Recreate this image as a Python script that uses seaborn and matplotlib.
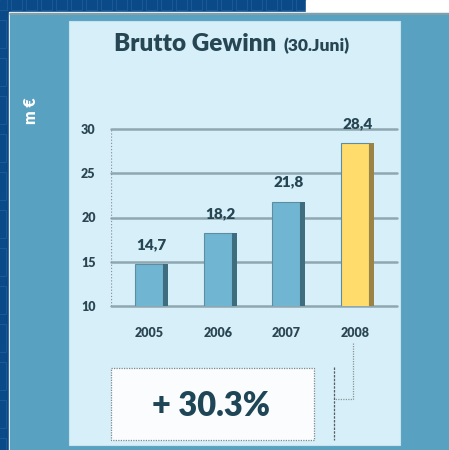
import matplotlib
matplotlib.use("Agg")
import matplotlib.pyplot as plt
import seaborn as sns
import pandas as pd
from matplotlib.patches import Rectangle

years = ["2005", "2006", "2007", "2008"]
values = [14.7, 18.2, 21.8, 28.4]
labels = ["14,7", "18,2", "21,8", "28,4"]
yticks = [10, 15, 20, 25, 30]
title = "Brutto Gewinn"
subtitle = "(30.Juni)"
unit = "m €"
growth = "+ 30.3%"

sns.set_theme(style="white")
plt.rcParams['font.family'] = ['Lato', 'DejaVu Sans']

W, H = 449, 450
fig = plt.figure(figsize=(W / 100, H / 100), dpi=100)

# background in pixel coordinates
bg = fig.add_axes([0, 0, 1, 1])
bg.set_xlim(0, W)
bg.set_ylim(H, 0)
bg.axis("off")
bg.add_patch(Rectangle((0, 0), W, H, color="#0b4a88", zorder=0))
for xx in range(-4, 310, 15):
    bg.add_patch(Rectangle((xx, -2), 11, 12, fill=False, ec="#1b5894", lw=0.8, zorder=0.5))
for yy in range(20, 450, 38):
    bg.add_patch(Rectangle((-3, yy), 9, 28, fill=False, ec="#1b5894", lw=0.8, zorder=0.5))
bg.add_patch(Rectangle((306, 0), W - 306, 12, color="white", zorder=1))
bg.add_patch(Rectangle((8.5, 11.5), W, H, color="white", zorder=1))
bg.add_patch(Rectangle((10, 13), W, H, color="#58a1c1", zorder=2))
bg.plot([10, W], [13.5, 13.5], color="#8f9fa6", lw=1.2, zorder=2.5)
bg.add_patch(Rectangle((69, 21), 331, 424, color="#d7eff8", ec="#c6e3ee", lw=0.8, zorder=3))

# title
bg.text(114, 51, title, fontsize=17.5, fontweight="heavy", color="#274653", ha="left", va="baseline", zorder=5)
bg.text(283, 51, subtitle, fontsize=12.5, fontweight="heavy", color="#274653", ha="left", va="baseline", zorder=5)
bg.text(31, 111, unit, fontsize=11.5, fontweight="heavy", color="white", rotation=90, ha="center", va="center", zorder=5)

# growth box
bg.add_patch(Rectangle((111, 368), 203, 72, facecolor="#fafcfd", edgecolor="#7f8a8f", lw=0.9, ls=(0, (1, 1)), zorder=4))
bg.text(211, 406, growth, fontsize=23.5, fontweight="heavy", color="#1f4656", ha="center", va="center", zorder=5)
bg.plot([353, 353, 334], [343, 399, 399], color="#8a959a", lw=0.9, ls=(0, (1, 1)), zorder=4)
bg.plot([334, 334], [367, 440], color="#555f63", lw=0.9, ls=(0, (2, 1)), zorder=4)

# chart axes
x0, x1 = 111, 397
y_top, y_bot = 129, 306
ax = fig.add_axes([x0 / W, 1 - y_bot / H, (x1 - x0) / W, (y_bot - y_top) / H])
ax.set_facecolor("none")
ax.patch.set_alpha(0)

df = pd.DataFrame({"year": years, "value": values})
face = ["#70b5d1", "#70b5d1", "#70b5d1", "#ffdc6b"]
side = ["#3e6d7f", "#3e6d7f", "#3e6d7f", "#9a8344"]
bar_w = 0.41
sns.barplot(data=df, x="year", y="value", hue="year", palette=face, legend=False, saturation=1,
            width=bar_w, ax=ax, edgecolor="#5d8da0", linewidth=0.8, zorder=3)

unit_px = 68.7
ax.set_xlim(-(149 - x0) / unit_px, (x1 - 149) / unit_px)
ax.set_ylim(10, 30)

for i, p in enumerate(ax.patches):
    bx = p.get_x() + p.get_width()
    h = p.get_height()
    ax.add_patch(Rectangle((bx, 0), 5 / unit_px, h, facecolor=side[i], edgecolor="none", zorder=3))
    ax.annotate(labels[i], (p.get_x() + p.get_width() / 2 + 2.5 / unit_px, h), xytext=(0, 11),
                textcoords="offset points", ha="center", va="baseline", fontsize=11,
                fontweight="heavy", color="#274653", annotation_clip=False)

for t in yticks:
    ax.axhline(t, color="#8ea7b1", lw=1.8, zorder=1, clip_on=False)
ax.axvline(ax.get_xlim()[0], color="#8a959a", lw=0.9, ls=(0, (1, 1.5)), zorder=1)

ax.set_yticks(yticks)
ax.set_yticklabels([str(t) for t in yticks])
ax.tick_params(axis="y", length=0, pad=11, labelsize=9, labelcolor="#2b4552")
ax.tick_params(axis="x", length=0, pad=15, labelsize=9, labelcolor="#2b4552")
for lab in ax.get_xticklabels() + ax.get_yticklabels():
    lab.set_fontweight("heavy")
ax.set_xlabel("")
ax.set_ylabel("")
for s in ax.spines.values():
    s.set_visible(False)

fig.savefig("out.png", dpi=100)
